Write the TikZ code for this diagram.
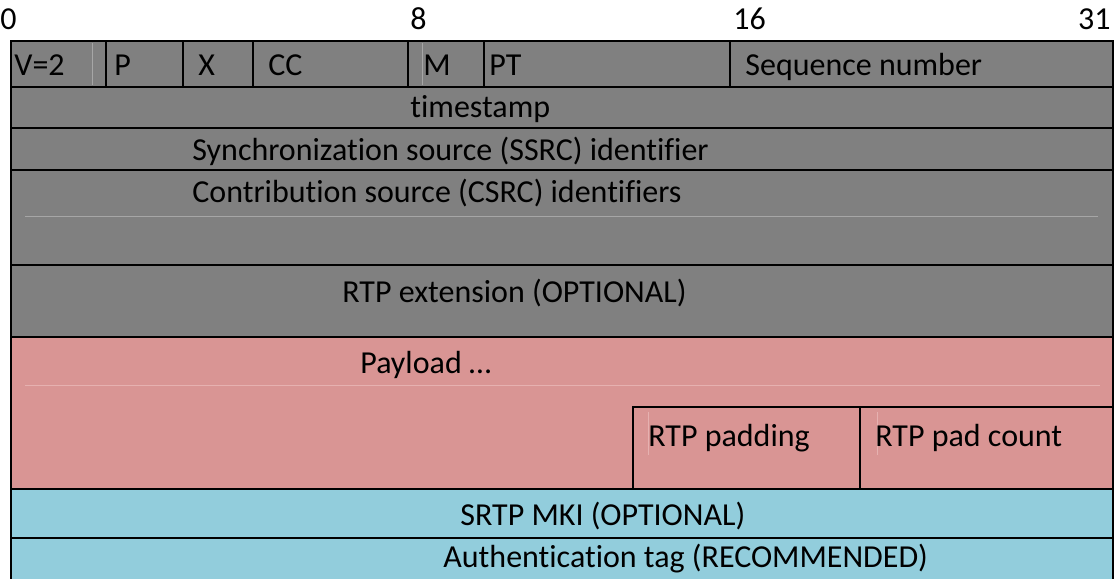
\documentclass[tikz,border=0pt]{standalone}
\usepackage{fontspec}
\setmainfont[Ligatures=NoCommon]{Carlito}
\usetikzlibrary{positioning}
\definecolor{hdrgrey}{HTML}{808080}
\definecolor{payloadpink}{HTML}{D99594}
\definecolor{srtpblue}{HTML}{92CDDC}
\definecolor{faintgrey}{HTML}{A6A6A6}
\definecolor{faintpink}{HTML}{E6B1B0}

\begin{document}
\begin{tikzpicture}[
    x=0.5pt, y=-0.5pt,
    field/.style={draw=black, line width=1pt},
    faint/.style={line width=0.5pt},
    lbl/.style={inner sep=0pt, anchor=base west, font=\fontsize{16}{18}\selectfont},
    bitnum/.style={lbl}
]
\useasboundingbox (0,0) rectangle (1116,579);

% bit positions
\node[bitnum] (bit0)  at (0,29)    {0};
\node[bitnum] (bit8)  at (410,29)  {8};
\node[bitnum] (bit16) at (733,29)  {16};
\node[bitnum, anchor=base east] (bit31) at (1111,29) {31};

% fills
\fill[hdrgrey]     (11,41)  rectangle (1113,337);
\fill[payloadpink] (11,337) rectangle (1113,489);
\fill[srtpblue]    (11,489) rectangle (1113,582);

% table artifacts
\draw[faint, faintgrey] (92,43) -- (92,85);
\draw[faint, faintgrey] (422,43) -- (422,85);
\draw[faint, faintgrey] (25,216) -- (1098,216);
\draw[faint, faintpink] (25,385) -- (1100,385);
\draw[faint, faintpink] (648,412) -- (648,455);
\draw[faint, faintpink] (877,412) -- (877,455);

% field borders
\draw[field] (11,41) rectangle (1113,582);
\foreach \y in {87,128,170,265,337,489,538}
    \draw[field] (11,\y) -- (1113,\y);
\foreach \x in {106,183,253,408,484,730}
    \draw[field] (\x,41) -- (\x,87);
\draw[field] (633,489) -- (633,407) -- (1113,407);
\draw[field] (860,407) -- (860,489);

% header word
\node[lbl] (ver)  at (14,75)  {V=2};
\node[lbl] (pad)  at (114,75) {P};
\node[lbl] (ext)  at (198,75) {X};
\node[lbl] (cc)   at (268,75) {CC};
\node[lbl] (mark) at (423,75) {M};
\node[lbl] (pt)   at (489,75) {PT};
\node[lbl] (seq)  at (745,75) {Sequence number};

\node[lbl] (ts)   at (410,117) {timestamp};
\node[lbl] (ssrc) at (192,160) {Synchronization source (SSRC) identifier};
\node[lbl] (csrc) at (192,202) {Contribution source (CSRC) identifiers};
\node[lbl] (rtpext) at (342,302) {RTP extension (OPTIONAL)};

% payload
\node[lbl] (payload) at (360,373) {Payload \dots};
\node[lbl] (padding) at (648,446) {RTP padding};
\node[lbl] (padcnt)  at (875,446) {RTP pad count};

% srtp trailer
\node[lbl] (mki)  at (460,525) {SRTP MKI (OPTIONAL)};
\node[lbl] (auth) at (443,567) {Authentication tag (RECOMMENDED)};

\end{tikzpicture}
\end{document}
